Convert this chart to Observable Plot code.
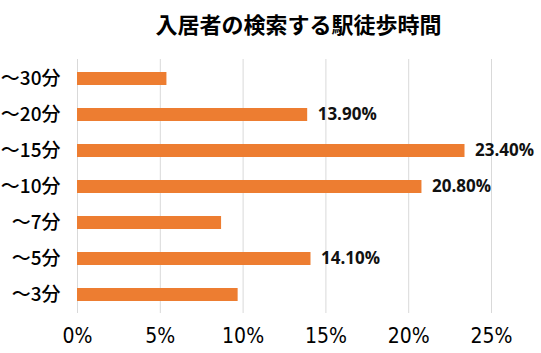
<!DOCTYPE html>
<html>
<head>
<meta charset="utf-8">
<script src="https://cdn.jsdelivr.net/npm/d3@7"></script>
<script src="https://cdn.jsdelivr.net/npm/@observablehq/plot@0.6"></script>
<style>
  html, body { margin: 0; padding: 0; background: #fff; }
  #wrap { position: relative; width: 541px; height: 353px; overflow: hidden; }
  #title { position: absolute; left: 0; width: 541px; top: 8px; padding-left: 56px; box-sizing: border-box;
           text-align: center; font-family: "Noto Sans CJK JP", sans-serif; font-weight: 700; font-size: 22px;
           line-height: 30px; color: #000; }
  #chart { position: absolute; left: 0; top: 0; }
</style>
</head>
<body>
<div id="wrap">
  <div id="chart"></div>
  <div id="title">入居者の検索する駅徒歩時間</div>
</div>
<script>
const categories = ["～30分", "～20分", "～15分", "～10分", "～7分", "～5分", "～3分"];
const values = [5.4, 13.9, 23.4, 20.8, 8.7, 14.1, 9.7];
const labels = ["", "13.90%", "23.40%", "20.80%", "", "14.10%", ""];
const xTicks = [0, 5, 10, 15, 20, 25];

const data = categories.map((c, i) => ({ cat: c, value: values[i], label: labels[i] }));

const chart = Plot.plot({
  width: 541,
  height: 353,
  marginLeft: 77,
  marginRight: 50,
  marginTop: 59,
  marginBottom: 40,
  style: { fontFamily: "'Noto Sans CJK JP', sans-serif", background: "#fff", color: "#000" },
  x: { domain: [0, 25], ticks: xTicks, tickFormat: d => d + "%", grid: false, label: null },
  y: { domain: categories, paddingInner: 0.64, paddingOuter: 0.33, label: null },
  marks: [
    Plot.gridX(xTicks, { stroke: "#d9d9d9", strokeOpacity: 1, strokeWidth: 1 }),
    Plot.barX(data, { x: "value", y: "cat", fill: "#ED7D31" }),
    Plot.text(data.filter(d => d.label), {
      x: "value", y: "cat", text: "label", dx: 10, textAnchor: "start",
      fontFamily: "'Open Sans', sans-serif", fontWeight: 700, fontSize: 17, fill: "#111"
    }),
    Plot.axisX(xTicks, {
      tickSize: 0, tickPadding: 15, tickFormat: d => d + "%",
      fontFamily: "'Liberation Sans Narrow', 'DejaVu Sans Condensed', sans-serif", fontSize: 21, fill: "#000", label: null
    }),
    Plot.axisY({
      tickSize: 0, tickPadding: 17,
      fontFamily: "'Noto Sans CJK JP', sans-serif", fontSize: 19, fontWeight: 500, fill: "#000", label: null
    })
  ]
});
document.getElementById("chart").appendChild(chart);
</script>
</body>
</html>
